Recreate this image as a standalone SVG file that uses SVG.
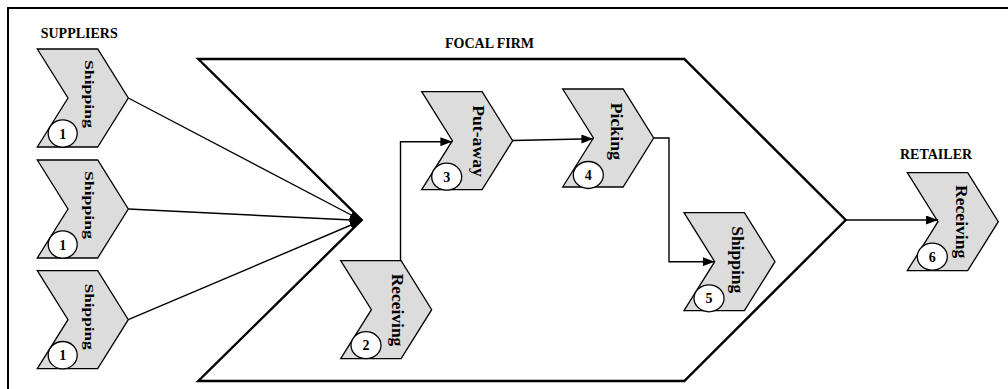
<svg xmlns="http://www.w3.org/2000/svg" width="1008" height="389" viewBox="0 0 1008 389">
<style>
.chev{fill:#dcdcdc;stroke:#000;stroke-width:1.3}
.circ{fill:#fff;stroke:#000;stroke-width:1.3}
.num{font-family:"Liberation Serif",serif;font-weight:bold;font-size:14px;text-anchor:middle}
.lbl{font-family:"Liberation Serif",serif;font-weight:bold;font-size:17px;text-anchor:middle}
.slbl{font-family:"Liberation Serif",serif;font-weight:bold;font-size:13.5px;text-anchor:middle}
.title{font-family:"Liberation Serif",serif;font-weight:bold;font-size:14px}
.conn{fill:none;stroke:#000;stroke-width:1.4}
</style>
<defs>
<path id="chevron" d="M0,0 H60.4 L91,49 L60.4,98 H0 L30.7,49 Z"/>
<marker id="ah" markerWidth="12" markerHeight="9" refX="12" refY="4.5" orient="auto" markerUnits="userSpaceOnUse">
<path d="M0,0 L12,4.5 L0,9 Z" fill="#000"/>
</marker>
</defs>
<path d="M8,389 V8 H1008" fill="none" stroke="#000" stroke-width="2"/>
<text class="title" x="40.7" y="38">SUPPLIERS</text>
<text class="title" x="445" y="48">FOCAL FIRM</text>
<text class="title" x="900" y="159">RETAILER</text>
<g id="focal-firm">
<path d="M198.3,59 H684.3 L845.7,220 L684.3,381 H198.3 L361.7,220 Z" fill="none" stroke="#000" stroke-width="2.4"/>
</g>
<g id="supplier-1" transform="translate(37.3,49)">
<use href="#chevron" class="chev"/>
<text class="slbl" x="47.7" y="45" transform="rotate(90,47.7,45)" textLength="68" lengthAdjust="spacingAndGlyphs">Shipping</text>
<ellipse class="circ" cx="25.4" cy="84.5" rx="14.5" ry="13.7"/>
<text class="num" x="25.4" y="89.5">1</text>
</g>
<g id="supplier-2" transform="translate(37.3,160)">
<use href="#chevron" class="chev"/>
<text class="slbl" x="47.7" y="45" transform="rotate(90,47.7,45)" textLength="68" lengthAdjust="spacingAndGlyphs">Shipping</text>
<ellipse class="circ" cx="25.4" cy="84.5" rx="14.5" ry="13.7"/>
<text class="num" x="25.4" y="89.5">1</text>
</g>
<g id="supplier-3" transform="translate(37.3,270.7)">
<use href="#chevron" class="chev"/>
<text class="slbl" x="47.7" y="46" transform="rotate(90,47.7,46)" textLength="66" lengthAdjust="spacingAndGlyphs">Shipping</text>
<ellipse class="circ" cx="25.4" cy="84.5" rx="14.5" ry="13.7"/>
<text class="num" x="25.4" y="89.5">1</text>
</g>
<g id="receiving-2" transform="translate(340.7,260.7)">
<use href="#chevron" class="chev"/>
<text class="lbl" x="51.3" y="49.3" transform="rotate(90,51.3,49.3)" textLength="72.7" lengthAdjust="spacingAndGlyphs">Receiving</text>
<ellipse class="circ" cx="25.3" cy="84.5" rx="15" ry="13.5"/>
<text class="num" x="25.3" y="89.5">2</text>
</g>
<g id="putaway-3" transform="translate(421.7,91.7)">
<use href="#chevron" class="chev"/>
<text class="lbl" x="51" y="49.3" transform="rotate(90,51,49.3)" textLength="71.7" lengthAdjust="spacingAndGlyphs">Put-away</text>
<ellipse class="circ" cx="25" cy="85" rx="15" ry="13.5"/>
<text class="num" x="25" y="90">3</text>
</g>
<g id="picking-4" transform="translate(562.7,89)">
<use href="#chevron" class="chev"/>
<text class="lbl" x="48.3" y="42.3" transform="rotate(90,48.3,42.3)" textLength="57.3" lengthAdjust="spacingAndGlyphs">Picking</text>
<ellipse class="circ" cx="25.6" cy="86" rx="15" ry="13.5"/>
<text class="num" x="25.6" y="91">4</text>
</g>
<g id="shipping-5" transform="translate(684,212.7)">
<use href="#chevron" class="chev"/>
<text class="lbl" x="48" y="47" transform="rotate(90,48,47)" textLength="67" lengthAdjust="spacingAndGlyphs">Shipping</text>
<ellipse class="circ" cx="25" cy="85.6" rx="15" ry="13.5"/>
<text class="num" x="25" y="90.6">5</text>
</g>
<g id="receiving-6" transform="translate(907.3,172.7)">
<use href="#chevron" class="chev"/>
<text class="lbl" x="48.2" y="49" transform="rotate(90,48.2,49)" textLength="73.3" lengthAdjust="spacingAndGlyphs">Receiving</text>
<ellipse class="circ" cx="25" cy="84" rx="15" ry="13.5"/>
<text class="num" x="25" y="89">6</text>
</g>
<g id="connectors">
<path class="conn" d="M128.3,98 L361.7,220.5" marker-end="url(#ah)"/>
<path class="conn" d="M128.3,209 L361.7,220.5" marker-end="url(#ah)"/>
<path class="conn" d="M128.3,319.7 L361.7,220.5" marker-end="url(#ah)"/>
<path class="conn" d="M400.5,260.7 V141.7 H452.4" marker-end="url(#ah)"/>
<path class="conn" d="M512.7,140.5 L593.4,138.8" marker-end="url(#ah)"/>
<path class="conn" d="M653.7,138 H669 V261.7 H714.7" marker-end="url(#ah)"/>
<path class="conn" d="M845.7,220 H938" marker-end="url(#ah)"/>
</g>
</svg>
